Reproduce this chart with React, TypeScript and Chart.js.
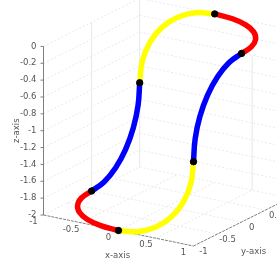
import React, { useEffect, useRef } from "react";
import { Chart, registerables } from "chart.js";

Chart.register(...registerables);

const xTicks = [-1, -0.5, 0, 0.5, 1];
const yTicks = [-1, -0.5, 0, 0.5, 1];
const zTicks = [0, -0.2, -0.4, -0.6, -0.8, -1, -1.2, -1.4, -1.6, -1.8, -2];

const arcUp = [0, 0.259, 0.5, 0.707, 0.866, 0.966, 1];
const arcDown = [1, 0.966, 0.866, 0.707, 0.5, 0.259, 0];
const ones = [1, 1, 1, 1, 1, 1, 1];
const zeros = [0, 0, 0, 0, 0, 0, 0];

const redTopX = arcUp;
const redTopY = arcDown;
const redTopZ = zeros;

const blueRightX = ones;
const blueRightY = [0, -0.259, -0.5, -0.707, -0.866, -0.966, -1];
const blueRightZ = [0, -0.034, -0.134, -0.293, -0.5, -0.741, -1];

const yellowRightX = arcDown;
const yellowRightY = [-1, -1, -1, -1, -1, -1, -1];
const yellowRightZ = [-1, -1.259, -1.5, -1.707, -1.866, -1.966, -2];

const redLowX = [0, -0.259, -0.5, -0.707, -0.866, -0.966, -1];
const redLowY = [-1, -0.966, -0.866, -0.707, -0.5, -0.259, 0];
const redLowZ = [-2, -2, -2, -2, -2, -2, -2];

const blueLeftX = [-1, -1, -1, -1, -1, -1, -1];
const blueLeftY = arcUp;
const blueLeftZ = [-2, -1.966, -1.866, -1.707, -1.5, -1.259, -1];

const yellowLeftX = [-1, -0.966, -0.866, -0.707, -0.5, -0.259, 0];
const yellowLeftY = ones;
const yellowLeftZ = [-1, -0.741, -0.5, -0.293, -0.134, -0.034, 0];

const knotX = [0, 1, 1, 0, -1, -1];
const knotY = [1, 0, -1, -1, 0, 1];
const knotZ = [0, 0, -1, -2, -2, -1];

const project = (x: number, y: number, z: number) => ({
  x: 43.5 + (x + 1) * 75 + (y + 1) * 48.1,
  y: 215 + (x + 1) * 15.5 - (y + 1) * 24 - (z + 2) * 84.3,
});

const curve = (xs: number[], ys: number[], zs: number[], color: string) => ({
  type: "line" as const,
  data: xs.map((v, i) => project(v, ys[i], zs[i])),
  borderColor: color,
  borderWidth: 5.5,
  borderCapStyle: "butt" as const,
  tension: 0.4,
  pointRadius: 0,
});

const seg = (a: number[], b: number[], color: string, width: number, dash: number[] = []) => ({
  type: "line" as const,
  data: [project(a[0], a[1], a[2]), project(b[0], b[1], b[2])],
  borderColor: color,
  borderWidth: width,
  borderDash: dash,
  tension: 0,
  pointRadius: 0,
});

const GRID = "#e9e9e9";
const GRID_SOLID = "#e8e8e8";
const AXIS = "#7f7f7f";
const DASH = [2, 2];

export default function App() {
  const ref = useRef<HTMLCanvasElement>(null);
  useEffect(() => {
    if (!ref.current) return;
    const grid: any[] = [];
    zTicks.forEach((z) => {
      grid.push(seg([-1, -1, z], [-1, 1, z], GRID, 1, DASH));
      grid.push(seg([-1, 1, z], [1, 1, z], GRID, 1, DASH));
    });
    xTicks.forEach((x) => {
      if (x > -1 && x < 1) grid.push(seg([x, -1, -2], [x, 1, -2], GRID, 1, DASH));
    });
    yTicks.forEach((y) => {
      if (y > -1 && y < 1) grid.push(seg([-1, y, -2], [1, y, -2], GRID, 1, DASH));
    });
    grid.push(seg([-1, 0, -2], [-1, 0, 0], GRID_SOLID, 1));
    grid.push(seg([-1, 1, -2], [-1, 1, 0], GRID_SOLID, 1));
    grid.push(seg([0.5, 1, -2], [0.5, 1, -0.4], GRID_SOLID, 1));

    const axes: any[] = [
      seg([-1, -1, -2], [-1, -1, 0], AXIS, 1),
      seg([-1, -1, -2], [1, -1, -2], AXIS, 1, [3, 1]),
      seg([1, -1, -2], [1, 1, -2], AXIS, 1, [3, 1]),
    ];
    zTicks.forEach((z) => {
      const p = project(-1, -1, z);
      axes.push({
        type: "line",
        data: [{ x: p.x - 3, y: p.y }, p],
        borderColor: AXIS,
        borderWidth: 1,
        pointRadius: 0,
      });
    });

    const labels = {
      id: "labels",
      afterDatasetsDraw(c: any) {
        const ctx = c.ctx;
        const sx = c.scales.x;
        const sy = c.scales.y;
        ctx.save();
        ctx.fillStyle = "#555555";
        ctx.font = "8.5px 'DejaVu Sans'";
        ctx.textBaseline = "middle";
        ctx.textAlign = "right";
        zTicks.forEach((z) => {
          const p = project(-1, -1, z);
          ctx.fillText(String(z), sx.getPixelForValue(p.x) - 7, sy.getPixelForValue(p.y));
        });
        ctx.textAlign = "center";
        xTicks.forEach((x) => {
          const p = project(x, -1, -2);
          ctx.fillText(String(x), sx.getPixelForValue(p.x) - 10, sy.getPixelForValue(p.y) + 7);
        });
        yTicks.forEach((y) => {
          const p = project(1, y, -2);
          ctx.fillText(String(y), sx.getPixelForValue(p.x) + 10, sy.getPixelForValue(p.y) + 6);
        });
        const xMid = project(0, -1, -2);
        ctx.fillText("x-axis", sx.getPixelForValue(xMid.x) - 1, sy.getPixelForValue(xMid.y) + 25);
        const yMid = project(1, 0, -2);
        ctx.fillText("y-axis", sx.getPixelForValue(yMid.x) + 12, sy.getPixelForValue(yMid.y) + 30);
        const zMid = project(-1, -1, -1);
        ctx.translate(sx.getPixelForValue(zMid.x) - 27, sy.getPixelForValue(zMid.y));
        ctx.rotate(-Math.PI / 2);
        ctx.fillText("z-axis", 0, 0);
        ctx.restore();
      },
    };

    const chart = new Chart(ref.current, {
      type: "scatter",
      data: {
        datasets: [
          {
            type: "scatter" as const,
            data: knotX.map((v, i) => project(v, knotY[i], knotZ[i])),
            backgroundColor: "#000000",
            borderColor: "#000000",
            pointRadius: 3.2,
            order: -1,
          },
          curve(redTopX, redTopY, redTopZ, "#ff0000"),
          curve(blueRightX, blueRightY, blueRightZ, "#0000ff"),
          curve(yellowRightX, yellowRightY, yellowRightZ, "#ffff00"),
          curve(redLowX, redLowY, redLowZ, "#ff0000"),
          curve(blueLeftX, blueLeftY, blueLeftZ, "#0000ff"),
          curve(yellowLeftX, yellowLeftY, yellowLeftZ, "#ffff00"),
          ...axes.map((d) => ({ ...d, order: 1 })),
          ...grid.map((d) => ({ ...d, order: 2 })),
        ] as any,
      },
      options: {
        animation: false,
        responsive: false,
        events: [],
        layout: { padding: 0, autoPadding: false },
        plugins: { legend: { display: false }, tooltip: { enabled: false } },
        scales: {
          x: { type: "linear", display: false, min: 0, max: 277 },
          y: { type: "linear", display: false, min: 0, max: 265, reverse: true },
        },
      },
      plugins: [labels],
    });
    return () => chart.destroy();
  }, []);
  return (
    <canvas
      ref={ref}
      width={277}
      height={265}
      style={{ position: "absolute", left: 0, top: 0, width: 277, height: 265, display: "block" }}
    />
  );
}
